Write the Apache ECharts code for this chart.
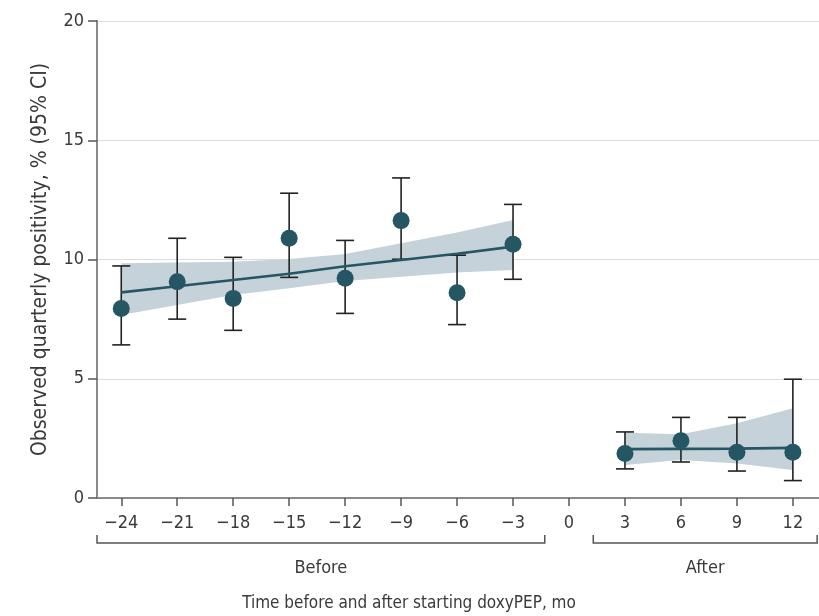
<!DOCTYPE html>
<html>
<head>
<meta charset="utf-8">
<script src="https://cdn.jsdelivr.net/npm/echarts@6/dist/echarts.min.js"></script>
<style>
html,body{margin:0;padding:0;background:#fff;}
#chart{width:819px;height:616px;}
</style>
</head>
<body>
<div id="chart"></div>
<script>
// Data
var beforeMonths = [-24, -21, -18, -15, -12, -9, -6, -3];
var beforeObserved = [7.95, 9.07, 8.37, 10.89, 9.21, 11.63, 8.61, 10.64];
var beforeLow = [6.42, 7.50, 7.03, 9.25, 7.74, 10.01, 7.27, 9.17];
var beforeHigh = [9.73, 10.89, 10.09, 12.78, 10.80, 13.42, 10.18, 12.31];
var beforeFit = [8.62, 8.88, 9.14, 9.40, 9.72, 9.98, 10.24, 10.54];
var beforeBandLow = [7.67, 8.09, 8.51, 8.79, 9.10, 9.28, 9.45, 9.56];
var beforeBandHigh = [9.84, 9.87, 9.91, 10.02, 10.23, 10.68, 11.13, 11.66];

var afterMonths = [3, 6, 9, 12];
var afterObserved = [1.87, 2.40, 1.92, 1.92];
var afterLow = [1.22, 1.51, 1.13, 0.73];
var afterHigh = [2.77, 3.38, 3.38, 4.98];
var afterFit = [2.05, 2.06, 2.07, 2.10];
var afterBandLow = [1.38, 1.59, 1.45, 1.17];
var afterBandHigh = [2.74, 2.67, 3.13, 3.76];

var xTicks = [-24, -21, -18, -15, -12, -9, -6, -3, 0, 3, 6, 9, 12];
var yTicks = [0, 5, 10, 15, 20];

var labels = {
  yName: 'Observed quarterly positivity, % (95% CI)',
  xName: 'Time before and after starting doxyPEP, mo',
  before: 'Before',
  after: 'After'
};

var FONT = '"DejaVu Sans Condensed", "Liberation Sans Narrow", "Roboto", sans-serif';
var DARK = '#245663';
var BAND = '#c6d2d9';
var TEXT = '#3a3a3a';
var AXIS = '#8a8a8a';

function pairs(xs, ys) { return xs.map(function (x, i) { return [x, ys[i]]; }); }
function triples(xs, lo, hi) { return xs.map(function (x, i) { return [x, lo[i], hi[i]]; }); }

function errRender(params, api) {
  var x = api.value(0);
  var pLo = api.coord([x, api.value(1)]);
  var pHi = api.coord([x, api.value(2)]);
  var cap = 9;
  var style = { stroke: '#222', lineWidth: 1.6, fill: null };
  return {
    type: 'group',
    children: [
      { type: 'line', shape: { x1: pLo[0], y1: pLo[1], x2: pHi[0], y2: pHi[1] }, style: style },
      { type: 'line', shape: { x1: pLo[0] - cap, y1: pLo[1], x2: pLo[0] + cap, y2: pLo[1] }, style: style },
      { type: 'line', shape: { x1: pHi[0] - cap, y1: pHi[1], x2: pHi[0] + cap, y2: pHi[1] }, style: style }
    ]
  };
}

function bandRender(xs, lo, hi) {
  return function (params, api) {
    if (params.dataIndex !== 0) return null;
    var pts = [];
    for (var i = 0; i < xs.length; i++) pts.push(api.coord([xs[i], hi[i]]));
    for (var j = xs.length - 1; j >= 0; j--) pts.push(api.coord([xs[j], lo[j]]));
    return { type: 'polygon', shape: { points: pts }, style: { fill: BAND, stroke: null } };
  };
}

var chart = echarts.init(document.getElementById('chart'), null, { renderer: 'canvas' });

var option = {
  animation: false,
  backgroundColor: '#fff',
  textStyle: { fontFamily: FONT },
  grid: { left: 97, right: 0, top: 21, bottom: 118, containLabel: false },
  xAxis: {
    type: 'value',
    min: -25.3,
    max: 13.4,
    axisLine: { show: true, onZero: false, lineStyle: { color: AXIS, width: 2 } },
    axisTick: { show: true, customValues: xTicks, length: 8, lineStyle: { color: '#555', width: 1.5 } },
    axisLabel: {
      show: true, customValues: xTicks, margin: 16, fontSize: 18, color: TEXT, fontFamily: FONT,
      formatter: function (v) { return String(v).replace('-', '\u2212'); }
    },
    splitLine: { show: false }
  },
  yAxis: {
    type: 'value',
    min: 0, max: 20, interval: 5,
    name: labels.yName,
    nameLocation: 'middle',
    nameGap: 46,
    nameTextStyle: { fontSize: 21, color: TEXT, fontFamily: FONT },
    axisLine: { show: true, onZero: false, lineStyle: { color: AXIS, width: 2 } },
    axisTick: { show: true, length: 9, lineStyle: { color: '#555', width: 1.5 } },
    axisLabel: { fontSize: 18, color: TEXT, margin: 13, fontFamily: FONT },
    splitLine: { show: true, lineStyle: { color: '#dcdcdc', width: 1 } }
  },
  series: [
    { type: 'custom', renderItem: bandRender(beforeMonths, beforeBandLow, beforeBandHigh), data: triples(beforeMonths, beforeBandLow, beforeBandHigh), encode: { x: 0, y: [1, 2] }, z: 1, silent: true },
    { type: 'custom', renderItem: bandRender(afterMonths, afterBandLow, afterBandHigh), data: triples(afterMonths, afterBandLow, afterBandHigh), encode: { x: 0, y: [1, 2] }, z: 1, silent: true },
    { type: 'custom', renderItem: errRender, data: triples(beforeMonths, beforeLow, beforeHigh), z: 3, encode: { x: 0, y: [1, 2] } },
    { type: 'custom', renderItem: errRender, data: triples(afterMonths, afterLow, afterHigh), z: 3, encode: { x: 0, y: [1, 2] } },
    { type: 'line', data: pairs(beforeMonths, beforeFit), symbol: 'none', lineStyle: { color: DARK, width: 2.6 }, z: 4 },
    { type: 'line', data: pairs(afterMonths, afterFit), symbol: 'none', lineStyle: { color: DARK, width: 2.6 }, z: 4 },
    { type: 'scatter', data: pairs(beforeMonths, beforeObserved), symbolSize: 17, itemStyle: { color: DARK, opacity: 1 }, z: 5 },
    { type: 'scatter', data: pairs(afterMonths, afterObserved), symbolSize: 17, itemStyle: { color: DARK, opacity: 1 }, z: 5 }
  ]
};
chart.setOption(option);

// Brackets and labels below the axis
var x0 = chart.convertToPixel({ xAxisIndex: 0 }, -25.3);
var x1 = chart.convertToPixel({ xAxisIndex: 0 }, -1.3);
var x2 = chart.convertToPixel({ xAxisIndex: 0 }, 1.3);
var x3 = chart.convertToPixel({ xAxisIndex: 0 }, 13.3);
var by = 543, bt = 535;
var bs = { stroke: '#555', lineWidth: 1.5, fill: null };
var ts = { fontSize: 18, fontFamily: FONT, fill: TEXT, align: 'center', verticalAlign: 'middle' };
chart.setOption({
  graphic: [
    { type: 'polyline', shape: { points: [[x0, bt], [x0, by], [x1, by], [x1, bt]] }, style: bs },
    { type: 'polyline', shape: { points: [[x2, bt], [x2, by], [x3, by], [x3, bt]] }, style: bs },
    { type: 'text', x: (x0 + x1) / 2, y: 568, style: Object.assign({ text: labels.before }, ts) },
    { type: 'text', x: (x2 + x3) / 2, y: 568, style: Object.assign({ text: labels.after }, ts) },
    { type: 'text', x: 409, y: 604, style: Object.assign({ text: labels.xName }, ts, { fontSize: 17 }) }
  ]
});
</script>
</body>
</html>
